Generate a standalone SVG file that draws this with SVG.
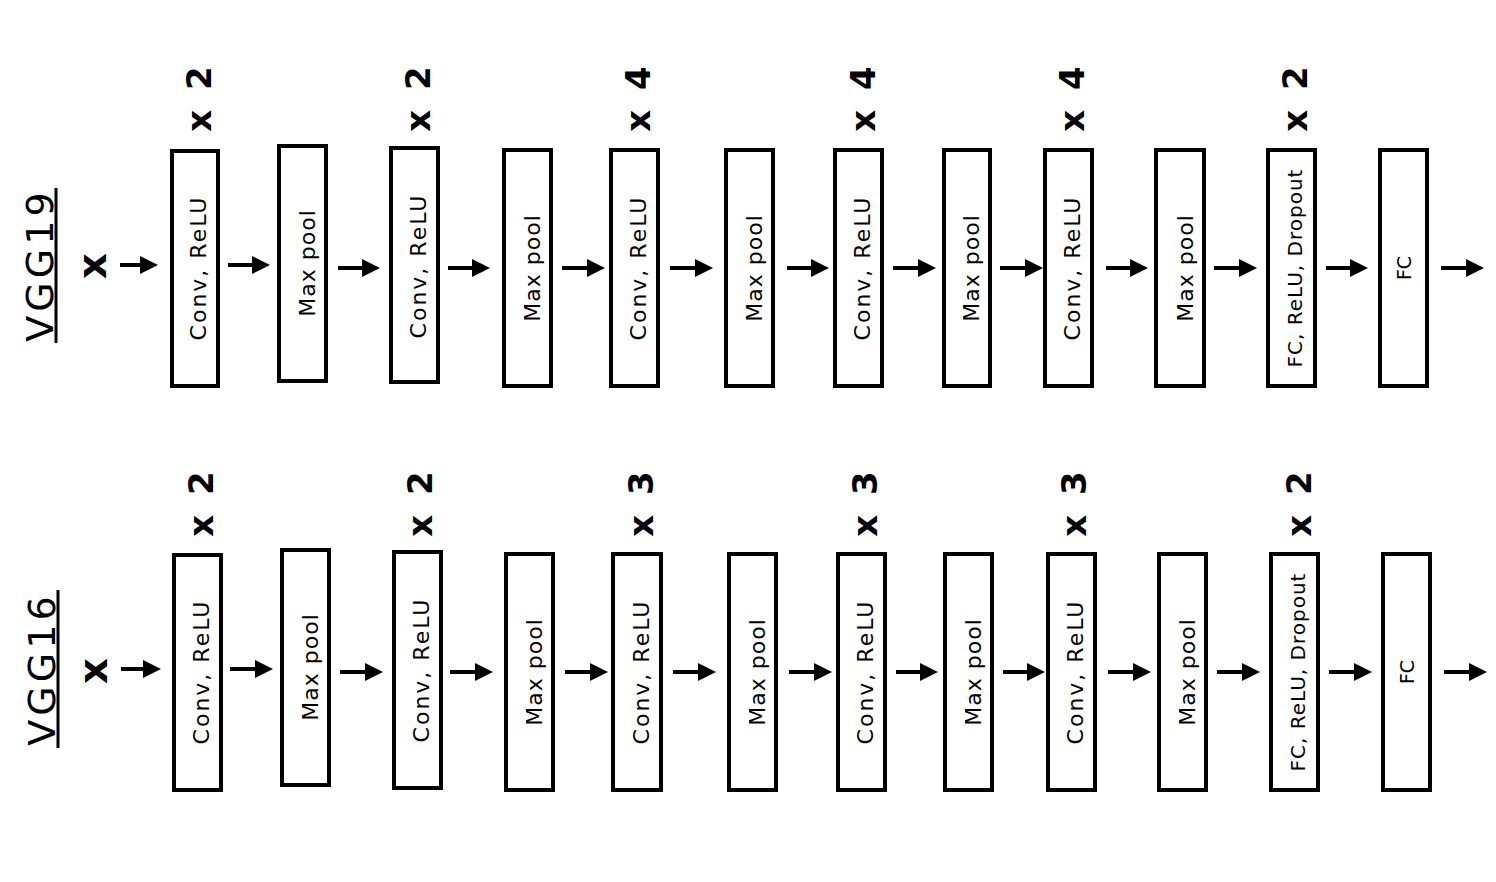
<svg xmlns="http://www.w3.org/2000/svg" width="1496" height="882" viewBox="0 0 1496 882">
<style>
.box{fill:#fff;stroke:#000;stroke-width:4}
.t{font-family:"DejaVu Sans","Liberation Sans",sans-serif;fill:#000;text-anchor:middle}
.conv{font-size:22px;letter-spacing:2px}
.pool{font-size:22px;letter-spacing:1px}
.fcr{font-size:20px;letter-spacing:1px}
.fc{font-size:19px}
.mul{font-size:34px;letter-spacing:4px;font-weight:bold}
.inp{font-size:40px;font-weight:bold}
.title{font-size:38px;letter-spacing:4px}
.arr{stroke:#000;stroke-width:4;fill:none;marker-end:url(#ah)}
.ul{stroke:#000;stroke-width:3}
</style>
<defs>
<marker id="ah" markerUnits="userSpaceOnUse" markerWidth="18" markerHeight="18" refX="0" refY="9" orient="auto"><path d="M0,0 L18,9 L0,18 z" fill="#000"/></marker>
</defs>
<rect width="1496" height="882" fill="#fff"/>

<!-- Titles and inputs -->
<g id="title-vgg19">
<text class="t title" transform="translate(53,265) rotate(-90)">VGG19</text>
<line class="ul" x1="56" y1="188" x2="56" y2="343"/>
</g>
<g id="title-vgg16">
<text class="t title" transform="translate(55,669) rotate(-90)">VGG16</text>
<line class="ul" x1="58" y1="590" x2="58" y2="748"/>
</g>
<g id="input-1"><text class="t inp" transform="translate(106,266) rotate(-90)">x</text></g>
<g id="input-2"><text class="t inp" transform="translate(107,671) rotate(-90)">x</text></g>

<!-- Multipliers row 1 -->
<g id="mult-r1">
<text class="t mul" transform="translate(211,97) rotate(-90)">x 2</text>
<text class="t mul" transform="translate(430,97) rotate(-90)">x 2</text>
<text class="t mul" transform="translate(650,97) rotate(-90)">x 4</text>
<text class="t mul" transform="translate(875,97) rotate(-90)">x 4</text>
<text class="t mul" transform="translate(1084,97) rotate(-90)">x 4</text>
<text class="t mul" transform="translate(1307,97) rotate(-90)">x 2</text>
</g>
<!-- Multipliers row 2 -->
<g id="mult-r2">
<text class="t mul" transform="translate(213,502) rotate(-90)">x 2</text>
<text class="t mul" transform="translate(432,502) rotate(-90)">x 2</text>
<text class="t mul" transform="translate(653,502) rotate(-90)">x 3</text>
<text class="t mul" transform="translate(877,502) rotate(-90)">x 3</text>
<text class="t mul" transform="translate(1086,502) rotate(-90)">x 3</text>
<text class="t mul" transform="translate(1311,502) rotate(-90)">x 2</text>
</g>

<!-- Row 1 nodes -->
<g id="r1-conv1"><rect class="box" x="172" y="151" width="46" height="235"/><text class="t conv" transform="translate(206,268) rotate(-90)">Conv, ReLU</text></g>
<g id="r1-pool1"><rect class="box" x="279" y="146" width="47" height="235"/><text class="t pool" transform="translate(315,263) rotate(-90)">Max pool</text></g>
<g id="r1-conv2"><rect class="box" x="391" y="148" width="47" height="234"/><text class="t conv" transform="translate(426,266) rotate(-90)">Conv, ReLU</text></g>
<g id="r1-pool2"><rect class="box" x="504" y="150" width="47" height="236"/><text class="t pool" transform="translate(540,268) rotate(-90)">Max pool</text></g>
<g id="r1-conv3"><rect class="box" x="611" y="150" width="47" height="236"/><text class="t conv" transform="translate(646,268) rotate(-90)">Conv, ReLU</text></g>
<g id="r1-pool3"><rect class="box" x="726" y="150" width="47" height="236"/><text class="t pool" transform="translate(762,268) rotate(-90)">Max pool</text></g>
<g id="r1-conv4"><rect class="box" x="835" y="150" width="47" height="236"/><text class="t conv" transform="translate(870,268) rotate(-90)">Conv, ReLU</text></g>
<g id="r1-pool4"><rect class="box" x="944" y="150" width="46" height="236"/><text class="t pool" transform="translate(979,268) rotate(-90)">Max pool</text></g>
<g id="r1-conv5"><rect class="box" x="1045" y="150" width="47" height="236"/><text class="t conv" transform="translate(1080,268) rotate(-90)">Conv, ReLU</text></g>
<g id="r1-pool5"><rect class="box" x="1156" y="150" width="48" height="236"/><text class="t pool" transform="translate(1193,268) rotate(-90)">Max pool</text></g>
<g id="r1-fc1"><rect class="box" x="1268" y="150" width="47" height="236"/><text class="t fcr" transform="translate(1302,268) rotate(-90)">FC, ReLU, Dropout</text></g>
<g id="r1-fc2"><rect class="box" x="1380" y="150" width="47" height="236"/><text class="t fc" transform="translate(1411,268) rotate(-90)">FC</text></g>

<!-- Row 2 nodes -->
<g id="r2-conv1"><rect class="box" x="174" y="555" width="47" height="235"/><text class="t conv" transform="translate(209,672) rotate(-90)">Conv, ReLU</text></g>
<g id="r2-pool1"><rect class="box" x="282" y="550" width="47" height="235"/><text class="t pool" transform="translate(318,667) rotate(-90)">Max pool</text></g>
<g id="r2-conv2"><rect class="box" x="394" y="552" width="47" height="236"/><text class="t conv" transform="translate(429,670) rotate(-90)">Conv, ReLU</text></g>
<g id="r2-pool2"><rect class="box" x="506" y="554" width="47" height="236"/><text class="t pool" transform="translate(542,672) rotate(-90)">Max pool</text></g>
<g id="r2-conv3"><rect class="box" x="613" y="554" width="48" height="236"/><text class="t conv" transform="translate(649,672) rotate(-90)">Conv, ReLU</text></g>
<g id="r2-pool3"><rect class="box" x="729" y="554" width="47" height="236"/><text class="t pool" transform="translate(765,672) rotate(-90)">Max pool</text></g>
<g id="r2-conv4"><rect class="box" x="838" y="554" width="47" height="236"/><text class="t conv" transform="translate(873,672) rotate(-90)">Conv, ReLU</text></g>
<g id="r2-pool4"><rect class="box" x="945" y="554" width="47" height="236"/><text class="t pool" transform="translate(981,672) rotate(-90)">Max pool</text></g>
<g id="r2-conv5"><rect class="box" x="1048" y="554" width="47" height="236"/><text class="t conv" transform="translate(1083,672) rotate(-90)">Conv, ReLU</text></g>
<g id="r2-pool5"><rect class="box" x="1159" y="554" width="47" height="236"/><text class="t pool" transform="translate(1195,672) rotate(-90)">Max pool</text></g>
<g id="r2-fc1"><rect class="box" x="1271" y="554" width="47" height="236"/><text class="t fcr" transform="translate(1305,672) rotate(-90)">FC, ReLU, Dropout</text></g>
<g id="r2-fc2"><rect class="box" x="1383" y="554" width="47" height="236"/><text class="t fc" transform="translate(1414,672) rotate(-90)">FC</text></g>

<!-- Connectors -->
<g id="connectors">
<line class="arr" x1="120" y1="265" x2="140" y2="265"/>
<line class="arr" x1="228" y1="265" x2="252" y2="265"/>
<line class="arr" x1="338" y1="268" x2="362" y2="268"/>
<line class="arr" x1="448" y1="268" x2="472" y2="268"/>
<line class="arr" x1="562" y1="268" x2="587" y2="268"/>
<line class="arr" x1="670" y1="268" x2="695" y2="268"/>
<line class="arr" x1="787" y1="268" x2="811" y2="268"/>
<line class="arr" x1="893" y1="268" x2="918" y2="268"/>
<line class="arr" x1="1000" y1="268" x2="1025" y2="268"/>
<line class="arr" x1="1106" y1="268" x2="1130" y2="268"/>
<line class="arr" x1="1214" y1="268" x2="1239" y2="268"/>
<line class="arr" x1="1326" y1="268" x2="1350" y2="268"/>
<line class="arr" x1="1441" y1="268" x2="1466" y2="268"/>

<line class="arr" x1="121" y1="669" x2="143" y2="669"/>
<line class="arr" x1="230" y1="669" x2="255" y2="669"/>
<line class="arr" x1="340" y1="672" x2="365" y2="672"/>
<line class="arr" x1="450" y1="672" x2="475" y2="672"/>
<line class="arr" x1="565" y1="672" x2="590" y2="672"/>
<line class="arr" x1="673" y1="672" x2="698" y2="672"/>
<line class="arr" x1="789" y1="672" x2="814" y2="672"/>
<line class="arr" x1="896" y1="672" x2="920" y2="672"/>
<line class="arr" x1="1003" y1="672" x2="1027" y2="672"/>
<line class="arr" x1="1108" y1="672" x2="1133" y2="672"/>
<line class="arr" x1="1217" y1="672" x2="1242" y2="672"/>
<line class="arr" x1="1329" y1="672" x2="1354" y2="672"/>
<line class="arr" x1="1444" y1="672" x2="1469" y2="672"/>
</g>
</svg>
